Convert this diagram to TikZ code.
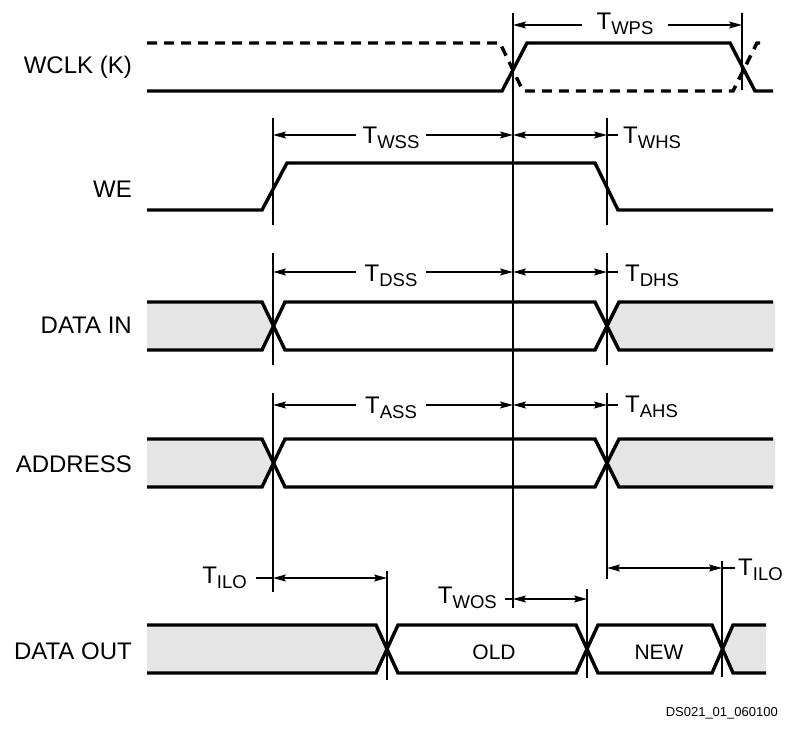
\documentclass[tikz,border=0pt]{standalone}
\usepackage{fontspec}
\setmainfont{Liberation Sans}
\usetikzlibrary{arrows.meta}
\newcommand{\tsub}[1]{T\raisebox{-5pt}{\fontsize{18.5}{18.5}\selectfont #1}}
\begin{document}
\begin{tikzpicture}[x=1pt,y=-1pt,
  sig/.style={line width=3.4pt},
  vline/.style={line width=1.1pt},
  lead/.style={line width=1.1pt},
  dim/.style={line width=1.1pt,{Stealth[length=13pt,width=7pt,inset=2.5pt]}-{Stealth[length=13pt,width=7pt,inset=2.5pt]}},
  greyfill/.style={fill=black!10},
  signame/.style={font=\fontsize{24}{28}\selectfont, anchor=base east, inner sep=0pt},
  tmid/.style={font=\fontsize{24}{28}\selectfont, anchor=base, fill=white, inner xsep=0pt, inner ysep=0pt},
  tside/.style={font=\fontsize{24}{28}\selectfont, anchor=base west, inner sep=0pt},
  tleft/.style={font=\fontsize{24}{28}\selectfont, anchor=base east, inner sep=0pt},
  val/.style={font=\fontsize{21}{24}\selectfont, anchor=base, inner sep=0pt}
]
\useasboundingbox (0,0) rectangle (786,728);

% ---------- signal names ----------
\node[signame] (nclk) at (132,73) {WCLK (K)};
\node[signame] (nwe) at (132,197) {WE};
\node[signame] (ndin) at (132,333) {DATA IN};
\node[signame] (nadr) at (132,472) {ADDRESS};
\node[signame] (ndout) at (132,659) {DATA OUT};

% ---------- grey fills ----------
\fill[greyfill] (147,302) -- (262,302) -- (273,326) -- (262,350) -- (147,350) -- cycle;
\fill[greyfill] (775,302) -- (620,302) -- (609,326) -- (620,350) -- (775,350) -- cycle;
\fill[greyfill] (147,439) -- (262,439) -- (273,463) -- (262,487) -- (147,487) -- cycle;
\fill[greyfill] (775,439) -- (620,439) -- (609,463) -- (620,487) -- (775,487) -- cycle;
\fill[greyfill] (147,625) -- (376,625) -- (387,649) -- (376,673) -- (147,673) -- cycle;
\fill[greyfill] (766,625) -- (733,625) -- (723,649) -- (733,673) -- (766,673) -- cycle;

% ---------- signals ----------
% WCLK
\draw[sig] (147,91) -- (502,91) -- (527,43) -- (730,43) -- (755,91) -- (773,91);
\draw[sig,dash pattern=on 10pt off 7pt] (147,43) -- (500,43) -- (523,91) -- (733,91) -- (757,43) -- (767,43);
% WE
\draw[sig] (147,210) -- (262,210) -- (287,163) -- (595,163) -- (618,210) -- (773,210);
% DATA IN
\draw[sig] (147,302) -- (262,302) -- (285,350) -- (595,350) -- (619,302) -- (773,302);
\draw[sig] (147,350) -- (262,350) -- (285,302) -- (595,302) -- (619,350) -- (773,350);
% ADDRESS
\draw[sig] (147,439) -- (262,439) -- (285,487) -- (595,487) -- (619,439) -- (773,439);
\draw[sig] (147,487) -- (262,487) -- (285,439) -- (595,439) -- (619,487) -- (773,487);
% DATA OUT
\draw[sig] (147,625) -- (376,625) -- (398,673) -- (576,673) -- (598,625) -- (712,625) -- (733,673) -- (766,673);
\draw[sig] (147,673) -- (376,673) -- (398,625) -- (576,625) -- (598,673) -- (712,673) -- (733,625) -- (766,625);
\node[val] (old) at (494,659) {OLD};
\node[val] (new) at (659,659) {NEW};

% ---------- reference lines ----------
\coordinate (a1t) at (273,118); \coordinate (a1b) at (273,225);
\coordinate (a2t) at (273,253); \coordinate (a2b) at (273,365);
\coordinate (a3t) at (273,393); \coordinate (a3b) at (273,592);
\coordinate (kt) at (513,13);   \coordinate (kb) at (513,608);
\coordinate (b1t) at (607,118); \coordinate (b1b) at (607,225);
\coordinate (b2t) at (607,253); \coordinate (b2b) at (607,365);
\coordinate (b3t) at (607,393); \coordinate (b3b) at (607,579);
\coordinate (ct) at (742,13);   \coordinate (cb) at (742,90);
\coordinate (d1t) at (387,571); \coordinate (d1b) at (387,680);
\coordinate (d2t) at (587,589); \coordinate (d2b) at (587,678);
\coordinate (d3t) at (722,561); \coordinate (d3b) at (722,677);
\foreach \p in {a1,a2,a3,k,b1,b2,b3,c,d1,d2,d3}
  \draw[vline] (\p t) -- (\p b);

% ---------- timing arrows ----------
% T_WPS
\coordinate (wps1) at (513,25); \coordinate (wps2) at (742,25);
\draw[dim] (wps1) -- (wps2);
\node[tmid, minimum width=86pt] (lwps) at (625,29) {\tsub{WPS}};
% T_WSS / T_WHS
\coordinate (wss1) at (273,135); \coordinate (wss2) at (513,135); \coordinate (whs2) at (607,135); \coordinate (whs3) at (618,135);
\draw[dim] (wss1) -- (wss2);
\node[tmid, minimum width=70pt] (lwss) at (391,143) {\tsub{WSS}};
\draw[dim] (wss2) -- (whs2);
\draw[lead] (whs2) -- (whs3);
\node[tside] (lwhs) at (623,143) {\tsub{WHS}};
% T_DSS / T_DHS
\coordinate (dss1) at (273,272); \coordinate (dss2) at (513,272); \coordinate (dhs2) at (607,272); \coordinate (dhs3) at (618,272);
\draw[dim] (dss1) -- (dss2);
\node[tmid, minimum width=70pt] (ldss) at (391,281) {\tsub{DSS}};
\draw[dim] (dss2) -- (dhs2);
\draw[lead] (dhs2) -- (dhs3);
\node[tside] (ldhs) at (625,281) {\tsub{DHS}};
% T_ASS / T_AHS
\coordinate (ass1) at (273,405); \coordinate (ass2) at (513,405); \coordinate (ahs2) at (607,405); \coordinate (ahs3) at (618,405);
\draw[dim] (ass1) -- (ass2);
\node[tmid, minimum width=70pt] (lass) at (391,413) {\tsub{ASS}};
\draw[dim] (ass2) -- (ahs2);
\draw[lead] (ahs2) -- (ahs3);
\node[tside] (lahs) at (625,412) {\tsub{AHS}};
% T_ILO (left)
\coordinate (ilo0) at (256,578); \coordinate (ilo1) at (273,578); \coordinate (ilo2) at (387,578);
\draw[lead] (ilo0) -- (ilo1);
\draw[dim] (ilo1) -- (ilo2);
\node[tleft] (lilo1) at (247,583) {\tsub{ILO}};
% T_WOS
\coordinate (wos0) at (505,599); \coordinate (wos1) at (513,599); \coordinate (wos2) at (587,599);
\draw[lead] (wos0) -- (wos1);
\draw[dim] (wos1) -- (wos2);
\node[tleft] (lwos) at (497,603) {\tsub{WOS}};
% T_ILO (right)
\coordinate (ilo3) at (607,568); \coordinate (ilo4) at (722,568); \coordinate (ilo5) at (735,568);
\draw[dim] (ilo3) -- (ilo4);
\draw[lead] (ilo4) -- (ilo5);
\node[tside] (lilo2) at (738,575) {\tsub{ILO}};

% ---------- figure id ----------
\node[font=\fontsize{13}{15}\selectfont, anchor=base east, inner sep=0pt] (fid) at (778,716) {DS021\_01\_060100};
\end{tikzpicture}
\end{document}
